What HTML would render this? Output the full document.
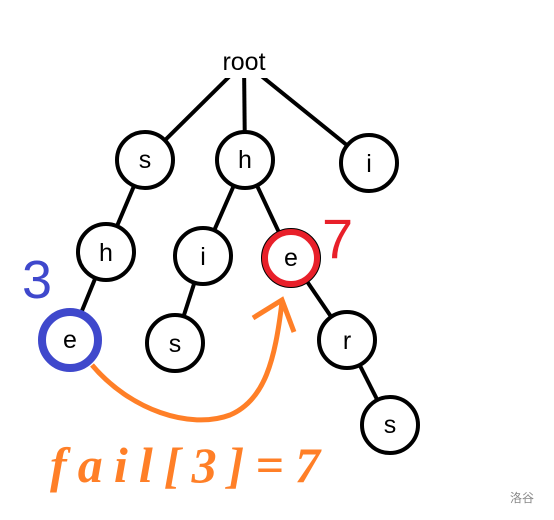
<!DOCTYPE html>
<html><head><style>
html,body{margin:0;padding:0;background:#fff;width:554px;height:520px;overflow:hidden}
</style></head><body>
<svg width="554" height="520" viewBox="0 0 554 520" xmlns="http://www.w3.org/2000/svg">
<g stroke="#000" stroke-width="4" fill="none">
<line x1="244" y1="62" x2="145" y2="160"/>
<line x1="244" y1="62" x2="245" y2="160"/>
<line x1="244" y1="62" x2="369" y2="163"/>
<line x1="145" y1="160" x2="106" y2="252"/>
<line x1="245" y1="160" x2="203" y2="256"/>
<line x1="245" y1="160" x2="291" y2="258"/>
<line x1="106" y1="252" x2="70" y2="340"/>
<line x1="203" y1="256" x2="175" y2="343"/>
<line x1="291" y1="258" x2="347" y2="340"/>
<line x1="347" y1="340" x2="390" y2="425"/>
</g>
<g stroke="#000" stroke-width="4" fill="#fff">
<circle cx="145" cy="160" r="28"/>
<circle cx="245" cy="160" r="28"/>
<circle cx="369" cy="163" r="28"/>
<circle cx="106" cy="252" r="28"/>
<circle cx="203" cy="256" r="28"/>
<circle cx="291" cy="258" r="28"/>
<circle cx="70" cy="340" r="28"/>
<circle cx="175" cy="343" r="28"/>
<circle cx="347" cy="340" r="28"/>
<circle cx="390" cy="425" r="28"/>
</g>
<rect x="212" y="46" width="62" height="32" fill="#fff"/>
<circle cx="291" cy="258" r="26" stroke="#e8202a" stroke-width="6" fill="none"/>
<circle cx="70" cy="340" r="28" stroke="#3f48cc" stroke-width="8" fill="none"/>
<g font-family="Liberation Sans, sans-serif" font-size="25" text-anchor="middle" fill="#000">
<text x="244" y="70">root</text>
<text x="145" y="168">s</text>
<text x="245" y="168">h</text>
<text x="369" y="172">i</text>
<text x="106" y="261">h</text>
<text x="203" y="265">i</text>
<text x="291" y="266">e</text>
<text x="70" y="348">e</text>
<text x="175" y="352">s</text>
<text x="347" y="349">r</text>
<text x="390" y="433">s</text>
</g>
<path d="M92 365 C130 410 190 430 230 415 C265 400 275 360 282 302" stroke="#ff7f27" stroke-width="5" fill="none"/>
<path d="M253 318 L282 300 L294 332" stroke="#ff7f27" stroke-width="5" fill="none"/>
<text x="50" y="482" font-family="Liberation Serif, serif" font-style="italic" font-weight="bold" font-size="50" fill="#ff7f27" textLength="270">fail[3]=7</text>
<text x="22" y="298" font-family="Liberation Sans, sans-serif" font-size="54" fill="#3f48cc">3</text>
<text x="322" y="258" font-family="Liberation Sans, sans-serif" font-size="56" fill="#e8202a">7</text>
<text x="510" y="502" font-family="Liberation Sans, 'Noto Sans CJK SC', sans-serif" font-size="12" fill="#888">洛谷</text>
</svg>
</body></html>
